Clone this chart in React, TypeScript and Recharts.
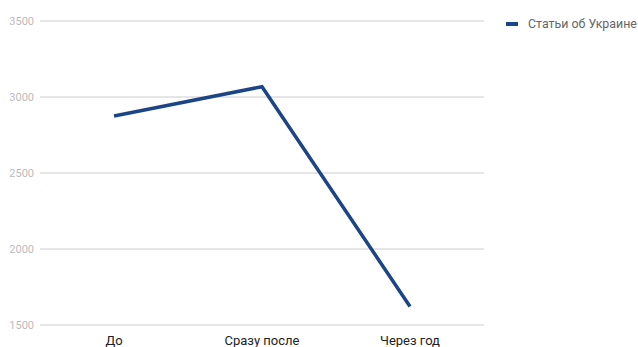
import { LineChart, Line, XAxis, YAxis, CartesianGrid, Legend } from "recharts";

const periods = ["До", "Сразу после", "Через год"];
const articles = [2875, 3068, 1622];
const yTicks = [1500, 2000, 2500, 3000, 3500];

const data = periods.map((period, i) => ({ period, articles: articles[i] }));

const LINE_COLOR = "#1c4587";

function XTick({ x, y, payload }: any) {
  return (
    <text
      x={x}
      y={y + 12}
      textAnchor="middle"
      fontSize={13}
      fill="#222"
      fontFamily="Roboto, sans-serif"
    >
      {payload.value}
    </text>
  );
}

function LegendBox() {
  return (
    <div
      style={{
        display: "flex",
        alignItems: "center",
        fontFamily: "Roboto, sans-serif",
        fontSize: 12.4,
        color: "#666",
        whiteSpace: "nowrap",
      }}
    >
      <span
        style={{
          display: "inline-block",
          width: 12,
          height: 4,
          background: LINE_COLOR,
          marginRight: 10,
        }}
      />
      Статьи об Украине
    </div>
  );
}

export default function App() {
  return (
    <div style={{ position: "absolute", left: 0, top: 0, background: "#fff" }}>
      <LineChart
        width={638}
        height={347}
        data={data}
        margin={{ top: 21, right: 154, left: 0, bottom: 0 }}
      >
        <CartesianGrid vertical={false} stroke="#ccc" />
        <XAxis
          dataKey="period"
          axisLine={false}
          tickLine={false}
          height={22}
          tick={<XTick />}
          interval={0}
          padding={{ left: 74, right: 74 }}
        />
        <YAxis
          domain={[1500, 3500]}
          ticks={yTicks}
          axisLine={false}
          tickLine={false}
          width={40}
          tickMargin={0}
          tick={{ fontSize: 11, fill: "#bbb", fontFamily: "Roboto, sans-serif" }}
        />
        <Legend
          layout="horizontal"
          verticalAlign="middle"
          align="center"
          content={<LegendBox />}
          wrapperStyle={{ position: "absolute", top: 16, left: 506, width: "auto" }}
        />
        <Line
          type="linear"
          dataKey="articles"
          name="Статьи об Украине"
          stroke={LINE_COLOR}
          strokeWidth={3.5}
          dot={false}
          isAnimationActive={false}
        />
      </LineChart>
    </div>
  );
}
